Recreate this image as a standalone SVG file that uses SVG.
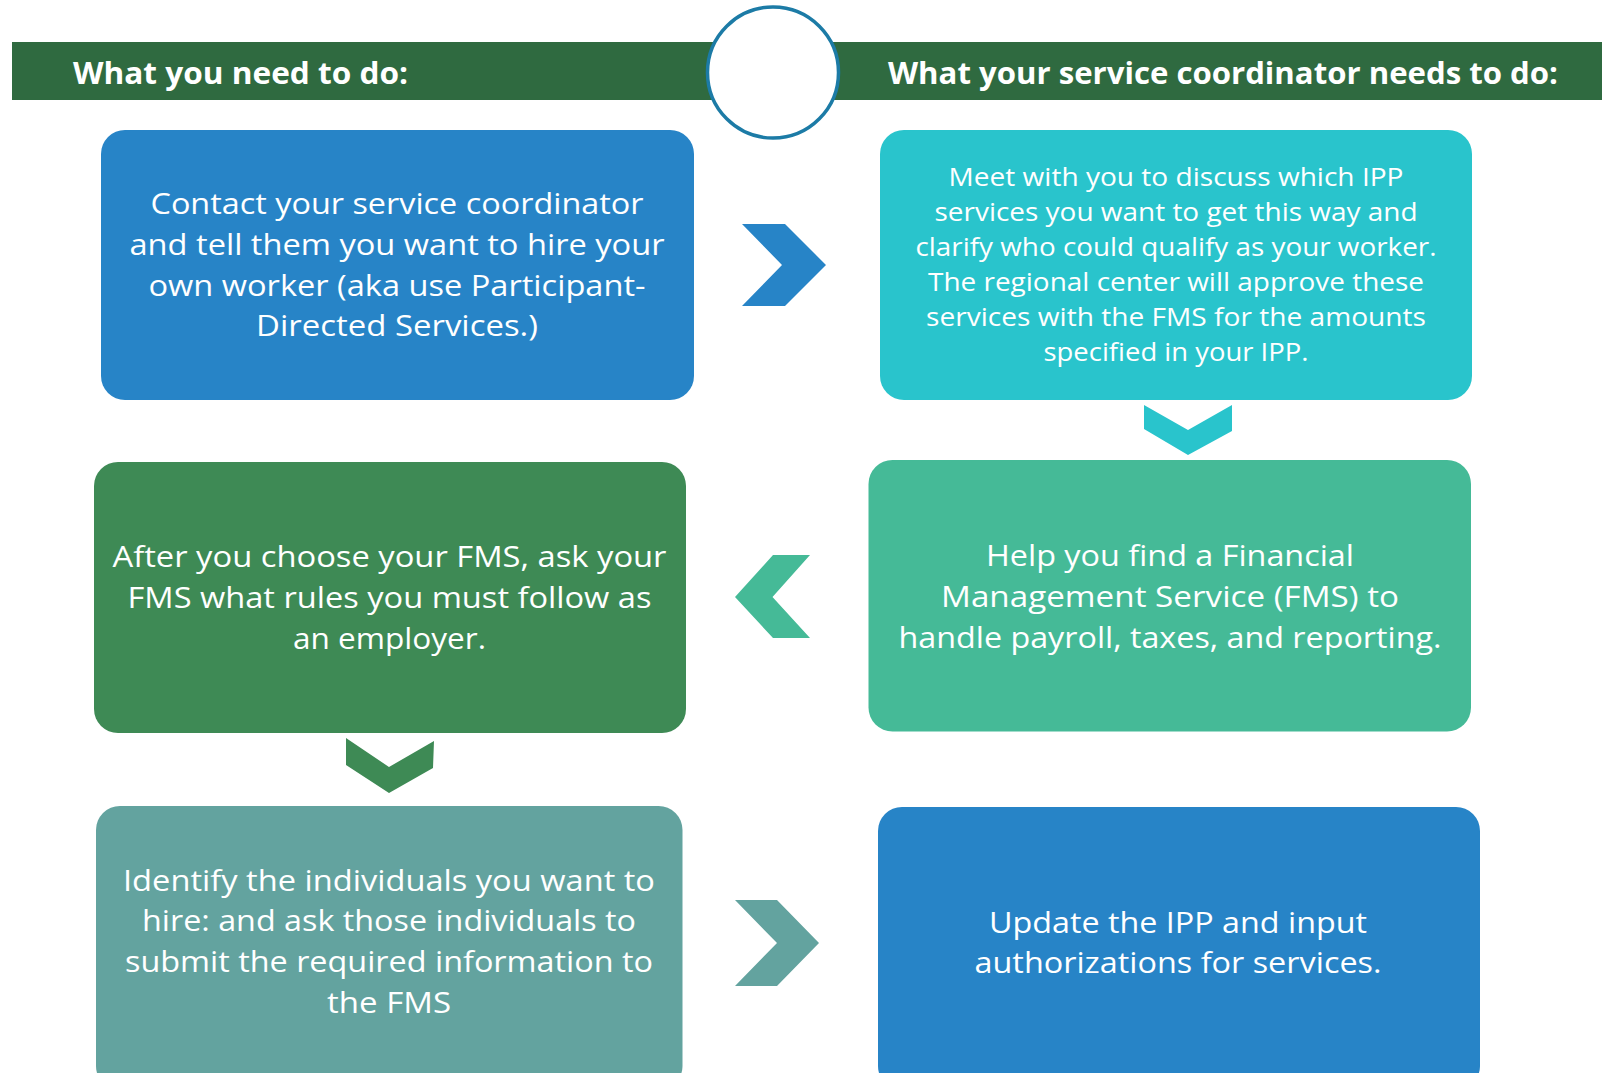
<svg xmlns="http://www.w3.org/2000/svg" width="1602" height="1073" viewBox="0 0 1602 1073">
<style>
.hdr{font-family:"Open Sans","Noto Sans","Liberation Sans",sans-serif;font-weight:bold;font-size:30px;fill:#ffffff}
.t1{font-family:"Open Sans","Noto Sans","Liberation Sans",sans-serif;font-size:30px;fill:#ffffff;text-anchor:middle}
.t2{font-family:"Open Sans","Noto Sans","Liberation Sans",sans-serif;font-size:26px;fill:#ffffff;text-anchor:middle}
</style>
<rect width="1602" height="1073" fill="#ffffff"/>
<g id="header">
<rect x="12" y="42" width="1590" height="58" fill="#2F6A40"/>
<text class="hdr" x="73" y="84" textLength="335" lengthAdjust="spacingAndGlyphs">What you need to do:</text>
<text class="hdr" x="888" y="84" textLength="670" lengthAdjust="spacingAndGlyphs">What your service coordinator needs to do:</text>
<circle cx="773" cy="72.5" r="65.5" fill="#ffffff" stroke="#1C7BA6" stroke-width="3.5"/>
</g>
<g id="connectors">
<polygon points="742,224 785,224 826,265 785,306 742,306 782,265" fill="#2784C7"/>
<polygon points="1144,405 1188,430 1232,405 1232,431 1188,455 1144,429" fill="#29C4CC"/>
<polygon points="810,555 773,555 735,597 773,638 810,638 772.5,597" fill="#45BA97"/>
<polygon points="346,738 389,767 434,741 433,768 389,793 346,765" fill="#3E8A55"/>
<polygon points="735,900 777,900 819,943 777,986 735,986 777,943" fill="#63A39F"/>
</g>
<g id="node1">
<rect x="101" y="130" width="593" height="270" rx="24" fill="#2784C7"/>
<text class="t1" x="397" y="214" textLength="493" lengthAdjust="spacingAndGlyphs">Contact your service coordinator</text>
<text class="t1" x="397" y="254.5" textLength="535" lengthAdjust="spacingAndGlyphs">and tell them you want to hire your</text>
<text class="t1" x="397" y="295.5" textLength="497" lengthAdjust="spacingAndGlyphs">own worker (aka use Participant-</text>
<text class="t1" x="397" y="336" textLength="282" lengthAdjust="spacingAndGlyphs">Directed Services.)</text>
</g>
<g id="node2">
<rect x="880" y="130" width="592" height="270" rx="24" fill="#29C4CC"/>
<text class="t2" x="1176" y="186" textLength="455" lengthAdjust="spacingAndGlyphs">Meet with you to discuss which IPP</text>
<text class="t2" x="1176" y="221" textLength="483" lengthAdjust="spacingAndGlyphs">services you want to get this way and</text>
<text class="t2" x="1176" y="256" textLength="521" lengthAdjust="spacingAndGlyphs">clarify who could qualify as your worker.</text>
<text class="t2" x="1176" y="291" textLength="496" lengthAdjust="spacingAndGlyphs">The regional center will approve these</text>
<text class="t2" x="1176" y="326" textLength="500" lengthAdjust="spacingAndGlyphs">services with the FMS for the amounts</text>
<text class="t2" x="1176" y="360.5" textLength="265" lengthAdjust="spacingAndGlyphs">specified in your IPP.</text>
</g>
<g id="node3">
<rect x="94" y="462" width="592" height="271" rx="24" fill="#3E8A55"/>
<text class="t1" x="389.5" y="567" textLength="554" lengthAdjust="spacingAndGlyphs">After you choose your FMS, ask your</text>
<text class="t1" x="389.5" y="608" textLength="524" lengthAdjust="spacingAndGlyphs">FMS what rules you must follow as</text>
<text class="t1" x="389.5" y="649" textLength="193" lengthAdjust="spacingAndGlyphs">an employer.</text>
</g>
<g id="node4">
<rect x="868.5" y="460" width="602.5" height="271.5" rx="24" fill="#45BA97"/>
<text class="t1" x="1170" y="566" textLength="368" lengthAdjust="spacingAndGlyphs">Help you find a Financial</text>
<text class="t1" x="1170" y="607" textLength="458" lengthAdjust="spacingAndGlyphs">Management Service (FMS) to</text>
<text class="t1" x="1170" y="648" textLength="543" lengthAdjust="spacingAndGlyphs">handle payroll, taxes, and reporting.</text>
</g>
<g id="node5">
<rect x="96" y="806" width="586.5" height="284" rx="24" fill="#63A39F"/>
<text class="t1" x="389" y="890.5" textLength="532" lengthAdjust="spacingAndGlyphs">Identify the individuals you want to</text>
<text class="t1" x="389" y="931" textLength="494" lengthAdjust="spacingAndGlyphs">hire: and ask those individuals to</text>
<text class="t1" x="389" y="972" textLength="528" lengthAdjust="spacingAndGlyphs">submit the required information to</text>
<text class="t1" x="389" y="1012.5" textLength="124" lengthAdjust="spacingAndGlyphs">the FMS</text>
</g>
<g id="node6">
<rect x="878" y="807" width="602" height="283" rx="24" fill="#2784C7"/>
<text class="t1" x="1178" y="933" textLength="378" lengthAdjust="spacingAndGlyphs">Update the IPP and input</text>
<text class="t1" x="1178" y="973" textLength="407" lengthAdjust="spacingAndGlyphs">authorizations for services.</text>
</g>
</svg>
